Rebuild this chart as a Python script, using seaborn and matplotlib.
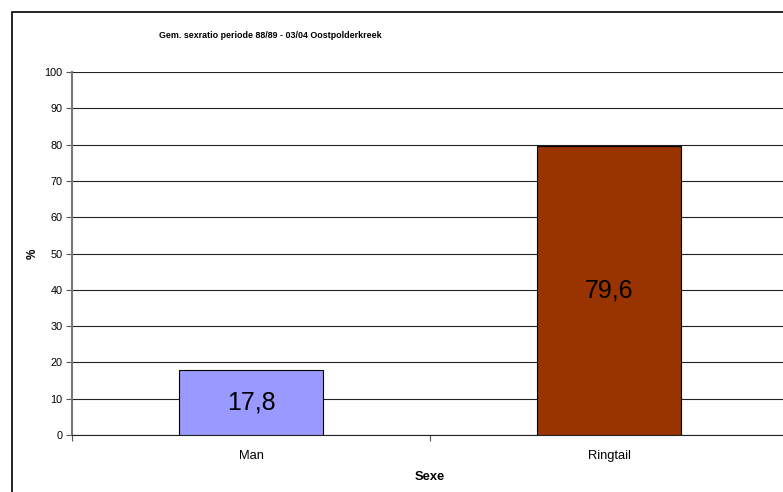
import pandas as pd
import seaborn as sns
import matplotlib.pyplot as plt
from matplotlib.patches import Rectangle

categories = ['Man', 'Ringtail']
percentages = [17.8, 79.6]
bar_colors = ['#9999FF', '#993300']
value_labels = ['17,8', '79,6']

df = pd.DataFrame({'Sexe': categories, 'pct': percentages})

sns.set_style('white')
plt.rcParams['font.family'] = ['Liberation Sans', 'DejaVu Sans']
plt.rcParams['text.color'] = 'black'
plt.rcParams['xtick.color'] = 'black'
plt.rcParams['ytick.color'] = 'black'
plt.rcParams['axes.labelcolor'] = 'black'

fig = plt.figure(figsize=(7.83, 4.92), dpi=100)
ax = fig.add_axes([72 / 783, 1 - 435 / 492, 716 / 783, 363 / 492])

sns.barplot(data=df, x='Sexe', y='pct', hue='Sexe', palette=bar_colors, saturation=1,
            width=0.4, edgecolor='black', linewidth=0.8, legend=False, ax=ax, zorder=3)

for i, lab in enumerate(value_labels):
    ax.text(i, percentages[i] / 2, lab, ha='center', va='center', fontsize=18, zorder=4)

ax.set_ylim(0, 100)
ax.set_xlim(-0.5, 1.5)
ax.set_yticks(range(0, 101, 10))
ax.yaxis.grid(True, color='#222222', linewidth=0.8)
ax.set_axisbelow(True)
ax.tick_params(axis='y', direction='out', length=4, width=0.8, labelsize=7.8, pad=3,
               left=True, color='#555555')
ax.set_xticks([0, 1])
ax.set_xticks([-0.5, 0.5, 1.5], minor=True)
ax.tick_params(axis='x', which='major', length=0, labelsize=9.3, pad=11)
ax.tick_params(axis='x', which='minor', direction='out', length=4, width=0.8,
               color='#555555', bottom=True)

for s in ['top', 'right']:
    ax.spines[s].set_visible(False)
ax.spines['left'].set_color('#777777')
ax.spines['left'].set_linewidth(1.5)
ax.spines['bottom'].set_color('#222222')
ax.spines['bottom'].set_linewidth(0.8)

ax.set_xlabel('Sexe', fontsize=9.3, fontweight='bold', labelpad=6)
ax.set_ylabel('%', fontsize=8.5, fontweight='bold', labelpad=4)
fig.suptitle('Gem. sexratio periode 88/89 - 03/04 Oostpolderkreek', fontsize=6.4,
             fontweight='bold', x=270 / 783, y=1 - 35 / 492, va='center')

# chart area frame (runs off the right and bottom edges)
fig.patches.append(Rectangle((12 / 783, -0.1), 1.2, 1 - 12 / 492 + 0.1,
                             transform=fig.transFigure, fill=False,
                             edgecolor='black', linewidth=1.2))

plt.savefig('out.png', dpi=100)
plt.close()
